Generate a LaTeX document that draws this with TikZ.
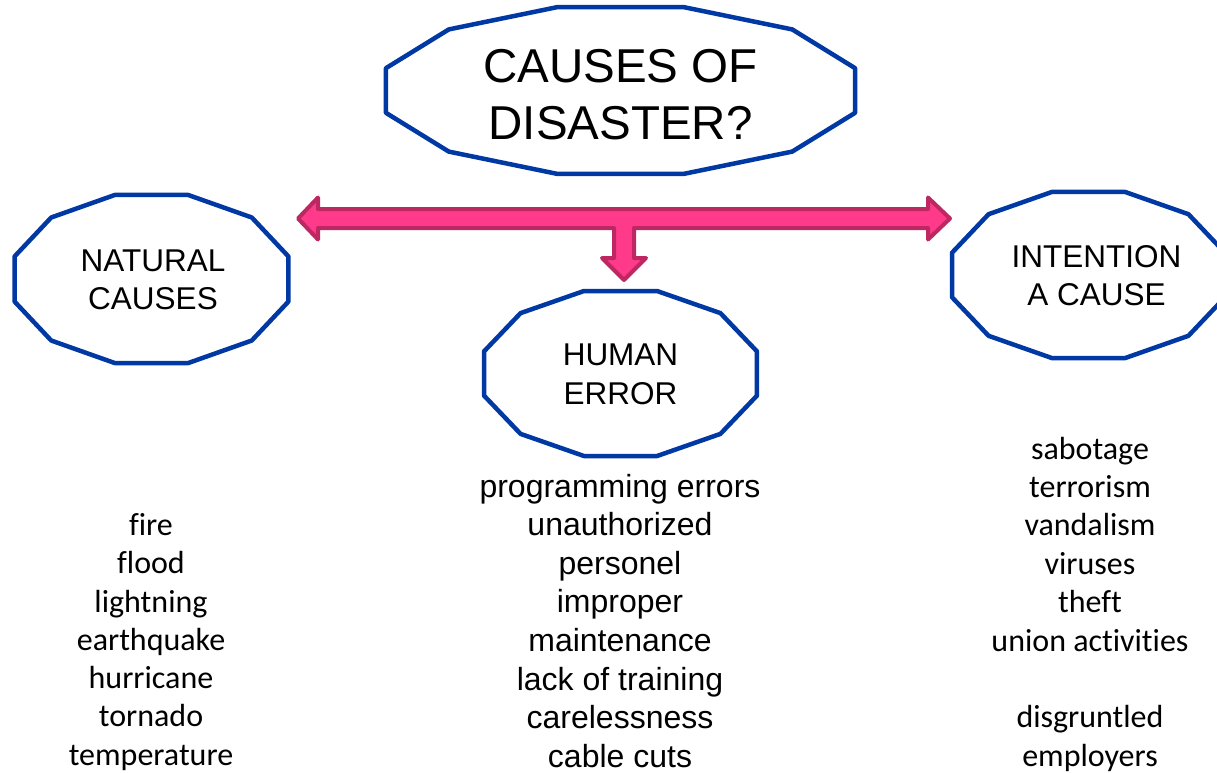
\documentclass[tikz,border=0pt]{standalone}
\usepackage{fontspec}
\setmainfont{Liberation Sans}
\newfontfamily\calfont[Ligatures={NoCommon}]{Carlito}
\definecolor{octoblue}{RGB}{0,57,164}
\definecolor{pinkfill}{RGB}{255,58,138}
\definecolor{pinkline}{RGB}{190,40,98}
\newcommand\dodecapath[3]{([shift={(#1)}]15:#2pt and #3pt)
  -- ([shift={(#1)}]45:#2pt and #3pt) -- ([shift={(#1)}]75:#2pt and #3pt)
  -- ([shift={(#1)}]105:#2pt and #3pt) -- ([shift={(#1)}]135:#2pt and #3pt)
  -- ([shift={(#1)}]165:#2pt and #3pt) -- ([shift={(#1)}]195:#2pt and #3pt)
  -- ([shift={(#1)}]225:#2pt and #3pt) -- ([shift={(#1)}]255:#2pt and #3pt)
  -- ([shift={(#1)}]285:#2pt and #3pt) -- ([shift={(#1)}]315:#2pt and #3pt)
  -- ([shift={(#1)}]345:#2pt and #3pt) -- cycle}
\tikzset{
  octo/.style={draw=octoblue, line width=4.5pt, line join=round, fill=white},
  toptext/.style={inner sep=0pt, font=\fontsize{47.5}{57}\selectfont},
  boxtext/.style={inner sep=0pt, font=\fontsize{31.5}{38}\selectfont},
  arialitem/.style={inner sep=0pt, anchor=base, font=\fontsize{32}{38}\selectfont},
  calitem/.style={inner sep=0pt, anchor=base, font=\calfont\fontsize{32}{38}\selectfont},
  bigarrow/.style={fill=pinkfill, draw=pinkline, line width=4pt, line join=round}
}
\begin{document}
\begin{tikzpicture}[x=1pt,y=-1pt]
\useasboundingbox (0,0) rectangle (1217,772);
\clip (0,0) rectangle (1217,772);
% shape centres
\coordinate (cTop) at (620.5,90.5);
\coordinate (cNat) at (151.5,279);
\coordinate (cInt) at (1088.5,275);
\coordinate (cHum) at (620.5,373.5);
% shapes
\draw[octo] \dodecapath{cTop}{242.8}{86.4};
\draw[octo] \dodecapath{cNat}{141.8}{87};
\draw[octo] \dodecapath{cInt}{141.3}{86};
\draw[octo] \dodecapath{cHum}{141.3}{85.4};
% labels
\node[toptext, anchor=base] (top1) at (620.5,82) {CAUSES OF};
\node[toptext, anchor=base] (top2) at (620.5,139) {DISASTER?};
\node[boxtext, anchor=base] (nat1) at (153,271.7) {NATURAL};
\node[boxtext, anchor=base] (nat2) at (153,309) {CAUSES};
\node[boxtext, anchor=base] (int1) at (1096.5,267.7) {INTENTION};
\node[boxtext, anchor=base] (int2) at (1096.5,305) {A CAUSE};
\node[boxtext, anchor=base] (hum1) at (620.5,365) {HUMAN};
\node[boxtext, anchor=base] (hum2) at (620.5,404) {ERROR};
% block arrow
\coordinate (aL) at (298,218.5);
\coordinate (aR) at (950,218.5);
\coordinate (aD) at (624,280);
\draw[bigarrow] (aL) -- (318,197.5) -- (318,209) -- (928,209) -- (928,197.5)
  -- (aR) -- (928,239.5) -- (928,228) -- (634,228) -- (634,258) -- (646,258)
  -- (aD) -- (602,258) -- (614,258) -- (614,228) -- (318,228) -- (318,239.5) -- cycle;
% lists
\foreach \t [count=\i from 0] in {fire,flood,lightning,earthquake,hurricane,tornado,temperature}
  \node[calitem] (nat-\i) at (151,535.5+38.25*\i) {\t};
\foreach \t [count=\i from 0] in {programming errors,unauthorized,personel,improper,maintenance,lack of training,carelessness,cable cuts}
  \node[arialitem] (hum-\i) at (620,497+38.6*\i) {\t};
\foreach \t [count=\i from 0] in {sabotage,terrorism,vandalism,viruses,theft,union activities,{},disgruntled,employers}
  \node[calitem] (int-\i) at (1090,459+38.4*\i) {\t};
\end{tikzpicture}
\end{document}
